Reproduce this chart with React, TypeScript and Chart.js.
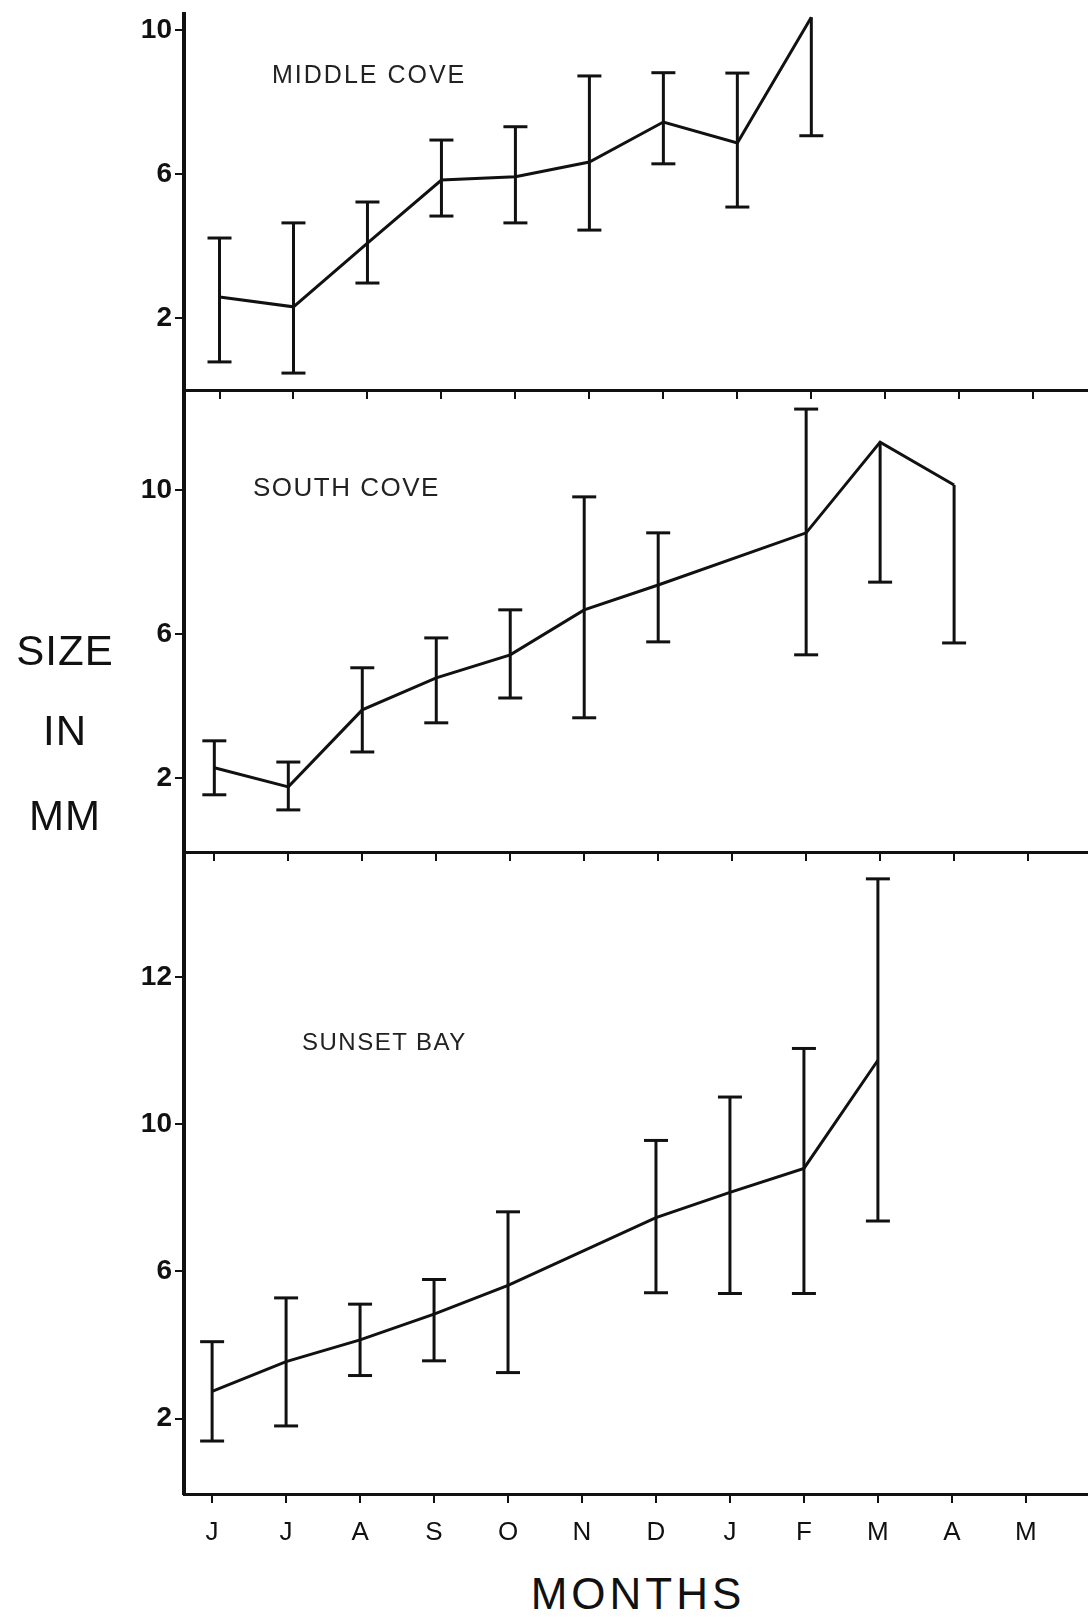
import React, { useEffect, useRef } from "react";
import { Chart, registerables } from "chart.js";

Chart.register(...registerables);

// ---------- data ----------
const months = ["J", "J", "A", "S", "O", "N", "D", "J", "F", "M", "A", "M"];

// Middle Cove (top panel)
const middleCoveMean = [2.58, 2.31, 4.08, 5.83, 5.92, 6.33, 7.44, 6.86, 10.35, null, null, null];
const middleCoveLow = [0.78, 0.47, 2.97, 4.83, 4.64, 4.44, 6.28, 5.08, 7.06, null, null, null];
const middleCoveHigh = [4.22, 4.64, 5.22, 6.94, 7.31, 8.72, 8.81, 8.8, null, null, null, null];

// South Cove (middle panel)
const southCoveMean = [2.28, 1.75, 3.89, 4.78, 5.42, 6.67, 7.36, null, 8.81, 11.33, 10.14, null];
const southCoveLow = [1.53, 1.11, 2.72, 3.53, 4.22, 3.67, 5.78, null, 5.42, 7.44, 5.75, null];
const southCoveHigh = [3.03, 2.44, 5.06, 5.89, 6.67, 9.81, 8.81, null, 12.25, null, null, null];

// Sunset Bay (bottom panel)
const sunsetBayMean = [2.74, 3.55, 4.14, 4.84, 5.62, null, 7.46, 8.15, 8.8, 11.74, null, null];
const sunsetBayLow = [1.39, 1.8, 3.17, 3.57, 3.25, null, 5.42, 5.4, 5.4, 7.37, null, null];
const sunsetBayHigh = [4.09, 5.28, 5.11, 5.78, 7.62, null, 9.56, 10.74, 12.06, 16.67, null, null];

// y tick values and their printed labels (as printed in the original figure)
const middleCoveTicks = [2, 6, 10];
const middleCoveTickLabels = ["2", "6", "10"];
const southCoveTicks = [2, 6, 10];
const southCoveTickLabels = ["2", "6", "10"];
const sunsetBayTicks = [2, 6, 10, 14];
const sunsetBayTickLabels = ["2", "6", "10", "12"];

// ---------- styling ----------
const INK = "#111111";
const FONT = "'Liberation Sans', Arial, sans-serif";
const X_MIN = -0.38;
const X_MAX = 11.84;

const errorBarPlugin = {
  id: "errorBars",
  afterDatasetsDraw(chart: any) {
    const { ctx } = chart;
    const xs = chart.scales.x;
    const ys = chart.scales.y;
    chart.data.datasets.forEach((ds: any) => {
      const low: (number | null)[] = ds.errLow || [];
      const high: (number | null)[] = ds.errHigh || [];
      ctx.save();
      ctx.strokeStyle = INK;
      ctx.lineWidth = 3;
      ctx.lineCap = "butt";
      ds.data.forEach((pt: any, i: number) => {
        if (pt.y == null) return;
        const px = xs.getPixelForValue(pt.x);
        const lo = low[i];
        const hi = high[i];
        const yTop = ys.getPixelForValue(hi != null ? hi : pt.y);
        const yBot = ys.getPixelForValue(lo != null ? lo : pt.y);
        ctx.beginPath();
        ctx.moveTo(px, yTop);
        ctx.lineTo(px, yBot);
        ctx.stroke();
        const cap = 12;
        if (hi != null) {
          ctx.beginPath();
          ctx.moveTo(px - cap, yTop);
          ctx.lineTo(px + cap, yTop);
          ctx.stroke();
        }
        if (lo != null) {
          ctx.beginPath();
          ctx.moveTo(px - cap, yBot);
          ctx.lineTo(px + cap, yBot);
          ctx.stroke();
        }
      });
      ctx.restore();
    });
  },
};

type PanelProps = {
  top: number;
  height: number;
  padTop: number;
  xHeight: number;
  xShift: number;
  yMin: number;
  yMax: number;
  mean: (number | null)[];
  low: (number | null)[];
  high: (number | null)[];
  ticks: number[];
  tickLabels: string[];
  showX: boolean;
};

function Panel(p: PanelProps) {
  const ref = useRef<HTMLCanvasElement>(null);
  useEffect(() => {
    if (!ref.current) return;
    const chart = new Chart(ref.current, {
      type: "line",
      data: {
        datasets: [
          {
            data: months.map((_, i) => ({ x: i, y: p.mean[i] })),
            borderColor: INK,
            borderWidth: 3,
            pointRadius: 0,
            spanGaps: true,
            tension: 0,
            fill: false,
            errLow: p.low,
            errHigh: p.high,
          } as any,
        ],
      },
      options: {
        animation: false,
        responsive: false,
        devicePixelRatio: 1,
        events: [],
        layout: { padding: { top: p.padTop, left: 0, right: 0, bottom: 0 } },
        plugins: { legend: { display: false }, tooltip: { enabled: false }, title: { display: false } },
        scales: {
          x: {
            type: "linear",
            position: "bottom",
            min: X_MIN - p.xShift,
            max: X_MAX - p.xShift,
            afterBuildTicks: (s: any) => {
              s.ticks = months.map((_, i) => ({ value: i }));
            },
            afterFit: (s: any) => {
              s.height = p.xHeight;
              s.paddingLeft = 0;
              s.paddingRight = 0;
            },
            ticks: {
              display: p.showX,
              autoSkip: false,
              maxRotation: 0,
              padding: 14,
              color: INK,
              font: { family: FONT, size: 26 },
              callback: (_v: any, i: number) => months[i],
            },
            grid: { drawOnChartArea: false, drawTicks: true, tickLength: 9, color: INK, lineWidth: 2 },
            border: { display: true, color: INK, width: 3 },
          },
          y: {
            type: "linear",
            min: p.yMin,
            max: p.yMax,
            afterBuildTicks: (s: any) => {
              s.ticks = p.ticks.map((v) => ({ value: v }));
            },
            afterFit: (s: any) => {
              s.width = 184;
              s.paddingTop = 0;
              s.paddingBottom = 0;
            },
            ticks: {
              padding: 3,
              color: INK,
              font: { family: FONT, size: 28, weight: "bold" },
              callback: (_v: any, i: number) => p.tickLabels[i],
            },
            grid: { drawOnChartArea: false, drawTicks: true, tickLength: 9, color: INK, lineWidth: 2 },
            border: { display: true, color: INK, width: 4 },
          },
        },
      } as any,
      plugins: [errorBarPlugin],
    });
    return () => chart.destroy();
  }, []);
  return (
    <canvas
      ref={ref}
      width={1088}
      height={p.height}
      style={{ position: "absolute", left: 0, top: p.top, width: 1088, height: p.height }}
    />
  );
}

const labelStyle = (left: number, top: number, size: number, spacing: number): React.CSSProperties => ({
  position: "absolute",
  left,
  top,
  fontFamily: FONT,
  fontSize: size,
  lineHeight: 1,
  letterSpacing: spacing,
  color: "#222",
  whiteSpace: "nowrap",
});

const axisWord = (top: number): React.CSSProperties => ({
  position: "absolute",
  left: 2,
  width: 126,
  top,
  textAlign: "center",
  fontFamily: FONT,
  fontSize: 42,
  lineHeight: 1,
  letterSpacing: 1,
  color: "#111",
});

export default function App() {
  return (
    <div
      style={{
        position: "absolute",
        left: 0,
        top: 0,
        width: 1088,
        height: 1617,
        overflow: "hidden",
        background: "#ffffff",
      }}
    >
      <Panel
        top={0}
        height={402}
        padTop={14}
        xHeight={12}
        xShift={0.1}
        yMin={0}
        yMax={10.44}
        mean={middleCoveMean}
        low={middleCoveLow}
        high={middleCoveHigh}
        ticks={middleCoveTicks}
        tickLabels={middleCoveTickLabels}
        showX={false}
      />
      <Panel
        top={380}
        height={484}
        padTop={10}
        xHeight={12}
        xShift={0.03}
        yMin={-0.06}
        yMax={12.78}
        mean={southCoveMean}
        low={southCoveLow}
        high={southCoveHigh}
        ticks={southCoveTicks}
        tickLabels={southCoveTickLabels}
        showX={false}
      />
      <Panel
        top={842}
        height={718}
        padTop={10}
        xHeight={66}
        xShift={0}
        yMin={-0.05}
        yMax={17.4}
        mean={sunsetBayMean}
        low={sunsetBayLow}
        high={sunsetBayHigh}
        ticks={sunsetBayTicks}
        tickLabels={sunsetBayTickLabels}
        showX={true}
      />

      <div style={labelStyle(272, 62, 25, 2)}>MIDDLE COVE</div>
      <div style={labelStyle(253, 474, 26, 1.5)}>SOUTH COVE</div>
      <div style={labelStyle(302, 1030, 24, 1.5)}>SUNSET BAY</div>

      <div style={axisWord(630)}>SIZE</div>
      <div style={axisWord(710)}>IN</div>
      <div style={axisWord(795)}>MM</div>

      <div
        style={{
          position: "absolute",
          left: 434,
          width: 400,
          top: 1572,
          textAlign: "center",
          fontFamily: FONT,
          fontSize: 44,
          lineHeight: 1,
          letterSpacing: 4,
          paddingLeft: 4,
          color: "#111",
        }}
      >
        MONTHS
      </div>
    </div>
  );
}
